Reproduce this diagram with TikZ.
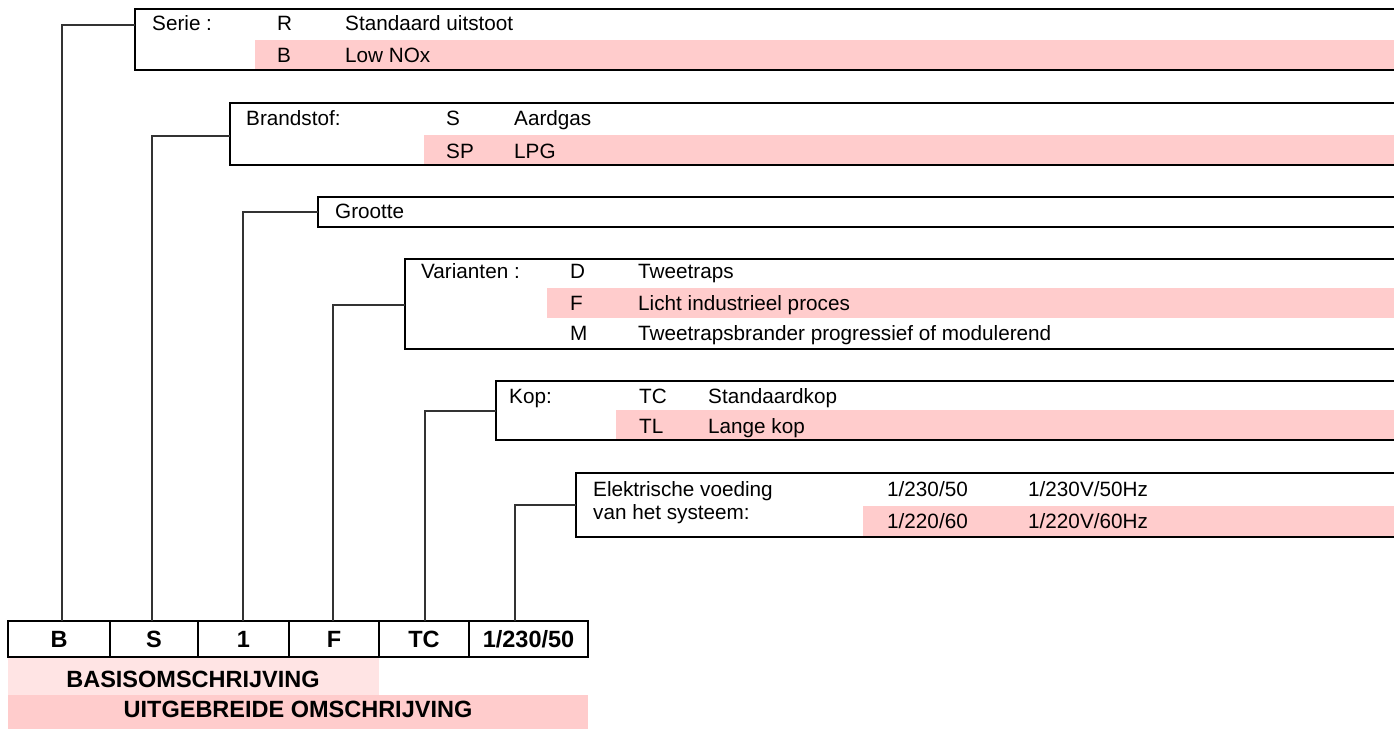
\documentclass[tikz,border=0pt]{standalone}
\usepackage{fontspec}
\setmainfont{Liberation Sans}
\definecolor{rowpink}{RGB}{255,204,204}
\definecolor{lightpink}{RGB}{255,228,228}
\begin{document}
\begin{tikzpicture}[x=1pt,y=-1pt,
  txt/.style={anchor=base west, inner sep=0pt, font=\fontsize{20.7}{24}\selectfont},
  btxt/.style={anchor=base, inner sep=0pt, font=\fontsize{23.5}{28}\selectfont\bfseries},
  boxline/.style={line width=1.4pt, black, line join=miter},
  conn/.style={line width=1.2pt, black!80},
]
\useasboundingbox (0,0) rectangle (1394,729);
% highlighted rows
\fill[rowpink] (255,40) rectangle (1394,70);
\fill[rowpink] (424,135) rectangle (1394,165);
\fill[rowpink] (547,288) rectangle (1394,318);
\fill[rowpink] (616,410) rectangle (1394,440);
\fill[rowpink] (863,506) rectangle (1394,537);
\fill[lightpink] (8,657) rectangle (379,695);
\fill[rowpink] (8,695) rectangle (588,729);
% open boxes
\draw[boxline] (1394,9) -- (135,9) -- (135,70) -- (1394,70);
\draw[boxline] (1394,103) -- (230,103) -- (230,165) -- (1394,165);
\draw[boxline] (1394,197) -- (318,197) -- (318,227) -- (1394,227);
\draw[boxline] (1394,259) -- (405,259) -- (405,349) -- (1394,349);
\draw[boxline] (1394,381) -- (496,381) -- (496,440) -- (1394,440);
\draw[boxline] (1394,473) -- (576,473) -- (576,537) -- (1394,537);
% box attach points
\coordinate (aSerie) at (135,25);
\coordinate (aBrand) at (230,136);
\coordinate (aGroot) at (318,212);
\coordinate (aVar) at (405,305);
\coordinate (aKop) at (496,411);
\coordinate (aElek) at (576,505);
% code cells
\draw[boxline] (8,621) rectangle (588,657);
\foreach \x in {110,198,289,379,469} \draw[boxline] (\x,621) -- (\x,657);
\coordinate (k1) at (62,621);
\coordinate (k2) at (152,621);
\coordinate (k3) at (243,621);
\coordinate (k4) at (333,621);
\coordinate (k5) at (425,621);
\coordinate (k6) at (515,621);
\node[btxt] (c1) at (59,647) {B};
\node[btxt] (c2) at (154,647) {S};
\node[btxt] (c3) at (243.5,647) {1};
\node[btxt] (c4) at (334,647) {F};
\node[btxt] (c5) at (424,647) {TC};
\node[btxt] (c6) at (528.5,647) {1/230/50};
\node[btxt] (basis) at (193,687) {BASISOMSCHRIJVING};
\node[btxt] (uitg) at (298,717) {UITGEBREIDE OMSCHRIJVING};
% connectors
\draw[conn] (aSerie) -| (k1);
\draw[conn] (aBrand) -| (k2);
\draw[conn] (aGroot) -| (k3);
\draw[conn] (aVar) -| (k4);
\draw[conn] (aKop) -| (k5);
\draw[conn] (aElek) -| (k6);
% Serie
\node[txt] (serie) at (152,30) {Serie :};
\node[txt] (sR) at (277,30) {R};
\node[txt] (sRd) at (345,30) {Standaard uitstoot};
\node[txt] (sB) at (277,62) {B};
\node[txt] (sBd) at (345,62) {Low NOx};
% Brandstof
\node[txt] (brand) at (246,125) {Brandstof:};
\node[txt] (bS) at (446,125) {S};
\node[txt] (bSd) at (514,125) {Aardgas};
\node[txt] (bSP) at (446,158) {SP};
\node[txt] (bSPd) at (514,158) {LPG};
% Grootte
\node[txt] (groot) at (335,218) {Grootte};
% Varianten
\node[txt] (var) at (421,278) {Varianten :};
\node[txt] (vD) at (570,278) {D};
\node[txt] (vDd) at (638,278) {Tweetraps};
\node[txt] (vF) at (570,310) {F};
\node[txt] (vFd) at (638,310) {Licht industrieel proces};
\node[txt] (vM) at (570,340) {M};
\node[txt] (vMd) at (638,340) {Tweetrapsbrander progressief of modulerend};
% Kop
\node[txt] (kop) at (509,403) {Kop:};
\node[txt] (kTC) at (639,403) {TC};
\node[txt] (kTCd) at (708,403) {Standaardkop};
\node[txt] (kTL) at (639,433) {TL};
\node[txt] (kTLd) at (708,433) {Lange kop};
% Elektrische voeding
\node[txt] (elek1) at (593,496) {Elektrische voeding};
\node[txt] (elek2) at (593,519) {van het systeem:};
\node[txt] (e1) at (887,496) {1/230/50};
\node[txt] (e1d) at (1028,496) {1/230V/50Hz};
\node[txt] (e2) at (887,528) {1/220/60};
\node[txt] (e2d) at (1028,528) {1/220V/60Hz};
\end{tikzpicture}
\end{document}
